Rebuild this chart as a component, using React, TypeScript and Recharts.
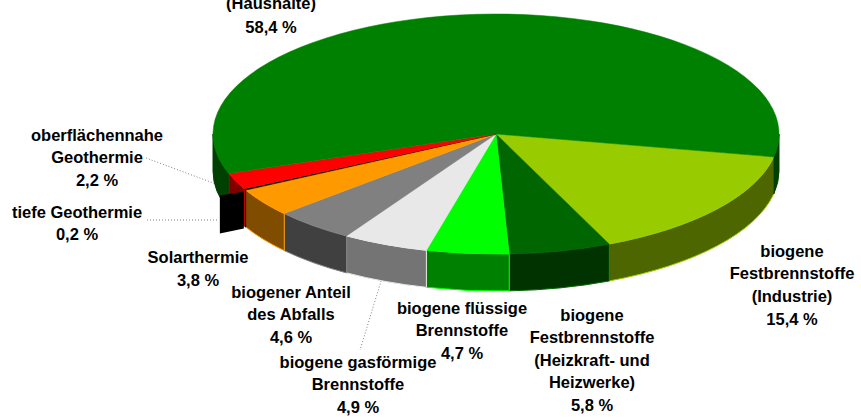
import { Pie, PieChart } from "recharts"

const categories = [
  "Festbrennstoffe Industrie",
  "Festbrennstoffe Heizwerke",
  "flüssige Brennstoffe",
  "gasförmige Brennstoffe",
  "Anteil des Abfalls",
  "Solarthermie",
  "tiefe Geothermie",
  "oberflächennahe Geothermie",
  "Festbrennstoffe Haushalte",
]
const shares = [15.4, 5.8, 4.7, 4.9, 4.6, 3.8, 0.2, 2.2, 58.4]
const topColors = ["#99cc00", "#006600", "#00ff00", "#e8e8e8", "#808080", "#ff9900", "#000000", "#ff0000", "#008000"]
const wallColors = ["#4d6600", "#003300", "#008000", "#747474", "#404040", "#804d00", "#000000", "#800000", "#004000"]
const labelLines = [
  ["biogene", "Festbrennstoffe", "(Industrie)"],
  ["biogene", "Festbrennstoffe", "(Heizkraft- und", "Heizwerke)"],
  ["biogene flüssige", "Brennstoffe"],
  ["biogene gasförmige", "Brennstoffe"],
  ["biogener Anteil", "des Abfalls"],
  ["Solarthermie"],
  ["tiefe Geothermie"],
  ["oberflächennahe", "Geothermie"],
  ["(Haushalte)"],
]

// where each text block sits: centre x, first line y
const labelAnchors = [
  [792, 251],
  [592, 315],
  [462, 308],
  [358, 362],
  [291, 292],
  [198, 257],
  [77, 212],
  [97, 135],
  [271, 3],
]
const labelSteps = [22.7, 22.5, 22.5, 22.5, 22.5, 23, 22, 22.5, 24]

const leaderLines = [
  [146, 158, 232, 190],
  [147, 220, 218, 220],
  [382, 278, 360, 350],
]

const rows = categories.map((name, i) => ({ name, value: shares[i], fill: topColors[i], wall: wallColors[i] }))

const CX = 496
const CY = 134
const RX = 283
const SQUASH = 120 / 283
const DEPTH = 37

const at = (deg: number, r: number, cx: number, cy: number): [number, number] => {
  const a = (deg * Math.PI) / 180
  return [cx + r * Math.cos(a), cy + r * SQUASH * Math.sin(a)]
}

function TopFace(props: any) {
  const { cx, cy, outerRadius: r, startAngle, endAngle, fill } = props
  const a = -startAngle
  const b = -endAngle
  const [x1, y1] = at(a, r, cx, cy)
  const [x2, y2] = at(b, r, cx, cy)
  const large = b - a > 180 ? 1 : 0
  const d = `M${cx},${cy} L${x1},${y1} A${r},${r * SQUASH} 0 ${large} 1 ${x2},${y2} Z`
  const isBlack = fill === "#000000"
  return (
    <g>
      <path d={d} fill={fill} stroke={fill} strokeWidth={0.5} />
      {isBlack && (
        // thin slice's cut face, sticks out to the left of the rim
        <path
          d={`M${x1 - 2},${y1 + 1.5} L${x1 - 26},${y1 + 5.5} L${x1 - 26},${y1 + 5.5 + DEPTH + 1} L${x1 - 2},${y1 + 1.5 + DEPTH} Z`}
          fill="#000000"
        />
      )}
    </g>
  )
}

function SideWall(props: any) {
  const { cx, cy, outerRadius: r, startAngle, endAngle, fill, payload } = props
  const a = -startAngle
  const b = -endAngle
  const wall = payload?.wall ?? props.wall
  const parts: string[] = []
  // only the front half of the rim is visible
  for (const shift of [0, 360]) {
    const from = Math.max(a, shift)
    const to = Math.min(b, shift + 180)
    if (to <= from) continue
    const [x1, y1] = at(from, r, cx, cy)
    const [x2, y2] = at(to, r, cx, cy)
    parts.push(
      `M${x1},${y1} A${r},${r * SQUASH} 0 0 1 ${x2},${y2} L${x2},${y2 + DEPTH} A${r},${r * SQUASH} 0 0 0 ${x1},${y1 + DEPTH} Z`,
    )
  }
  return <path d={parts.join(" ")} fill={wall} stroke={fill === "#008000" ? wall : fill} strokeWidth={1} />
}

function SliceLabel(props: any) {
  const i = props.index
  const [x, y] = labelAnchors[i]
  const step = labelSteps[i]
  const lines = [...labelLines[i], `${shares[i].toFixed(1).replace(".", ",")} %`]
  return (
    <text
      x={x}
      fontFamily="'Liberation Sans', Arial, sans-serif"
      fontWeight="bold"
      fontSize={16.5}
      fill="#000000"
      textAnchor="middle"
    >
      {lines.map((line, k) => (
        <tspan key={k} x={x} y={y + k * step + 5.5}>
          {line}
        </tspan>
      ))}
    </text>
  )
}

export default function App() {
  return (
    <div style={{ position: "absolute", left: 0, top: 0 }}>
      <PieChart width={861} height={419} margin={{ top: 0, right: 0, bottom: 0, left: 0 }}>
        <Pie
          data={rows}
          dataKey="value"
          cx={CX}
          cy={CY}
          outerRadius={RX}
          startAngle={-11}
          endAngle={-371}
          paddingAngle={0}
          isAnimationActive={false}
          shape={SideWall}
        />
        <Pie
          data={rows}
          dataKey="value"
          cx={CX}
          cy={CY}
          outerRadius={RX}
          startAngle={-11}
          endAngle={-371}
          paddingAngle={0}
          isAnimationActive={false}
          shape={TopFace}
          label={SliceLabel}
          labelLine={false}
        />
        {leaderLines.map(([x1, y1, x2, y2], i) => (
          <line key={i} x1={x1} y1={y1} x2={x2} y2={y2} stroke="#808080" strokeWidth={1} strokeDasharray="1 2" />
        ))}
      </PieChart>
    </div>
  )
}
